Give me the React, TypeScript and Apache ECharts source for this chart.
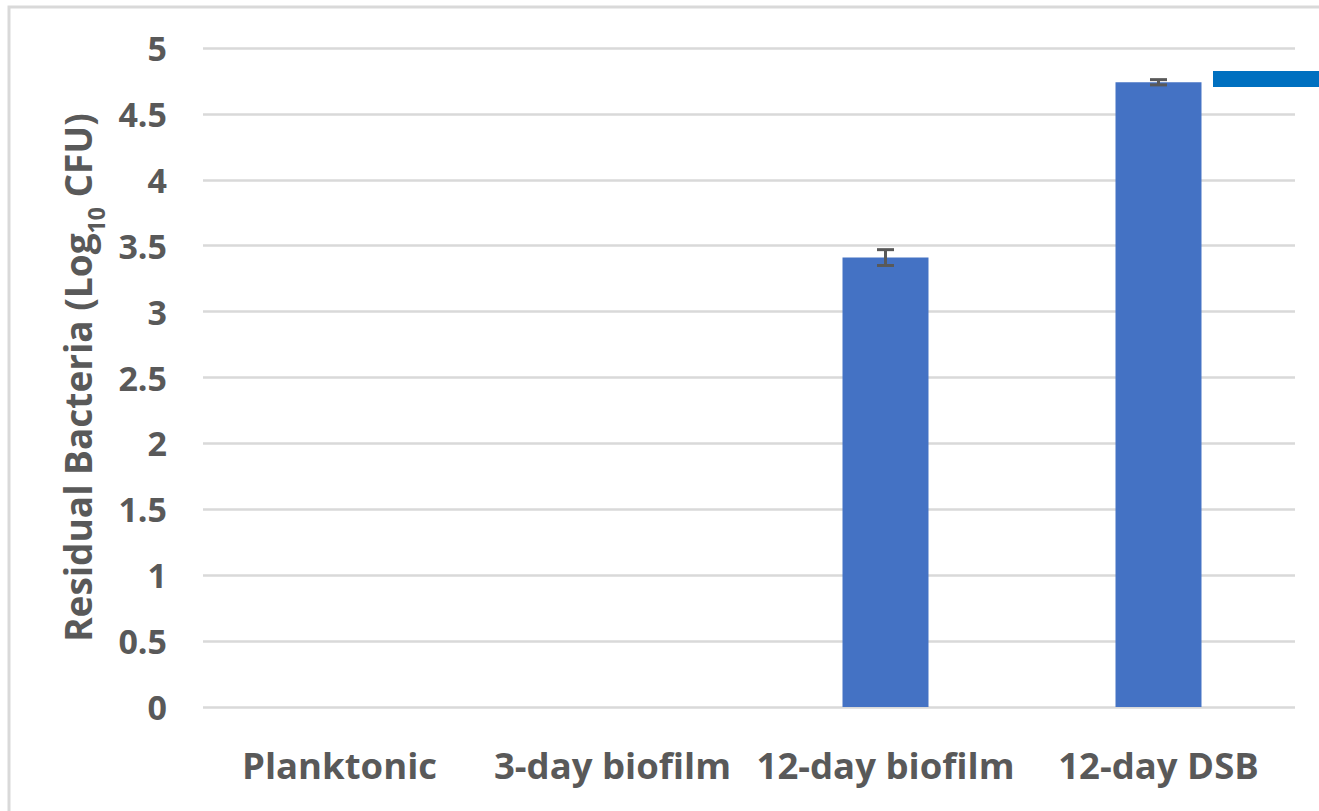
import React, { useEffect, useRef } from "react";
import * as echarts from "echarts";

const categories = ["Planktonic", "3-day biofilm", "12-day biofilm", "12-day DSB"];
const means = [0, 0, 3.41, 4.74];
const errors = [0, 0, 0.06, 0.02];
const yTicks = { min: 0, max: 5, interval: 0.5 };

export default function App() {
  const ref = useRef<HTMLDivElement>(null);
  useEffect(() => {
    const chart = echarts.init(ref.current!, null, { renderer: "svg" });
    const font = "Open Sans";
    const grey = "#595959";
    chart.setOption({
      animation: false,
      backgroundColor: "#ffffff",
      grid: { left: 203, right: 24, top: 48, bottom: 104 },
      graphic: [
        {
          type: "rect",
          shape: { x: 9, y: 7, width: 1400, height: 900 },
          style: { fill: "none", stroke: "#d9d9d9", lineWidth: 3 },
          silent: true,
        },
        {
          type: "rect",
          shape: { x: 1213, y: 71, width: 120, height: 16 },
          style: { fill: "#0070C0" },
          silent: true,
        },
      ],
      xAxis: {
        type: "category",
        data: categories,
        axisLine: { show: false },
        axisTick: { show: false },
        axisLabel: {
          color: grey,
          fontFamily: font,
          fontWeight: "bold",
          fontSize: 36.5,
          margin: 39,
          interval: 0,
        },
      },
      yAxis: {
        type: "value",
        min: yTicks.min,
        max: yTicks.max,
        interval: yTicks.interval,
        axisLine: { show: false },
        axisTick: { show: false },
        splitLine: { lineStyle: { color: "#d9d9d9", width: 2.5 } },
        axisLabel: {
          color: grey,
          fontFamily: font,
          fontWeight: "bold",
          fontSize: 34,
          margin: 36,
        },
        name: "{a|Residual Bacteria (Log}{s|10}{a| CFU)}",
        nameLocation: "middle",
        nameRotate: 90,
        nameGap: 97,
        nameTextStyle: {
          rich: {
            a: { color: grey, fontFamily: font, fontWeight: "bold", fontSize: 37 },
            s: {
              color: grey,
              fontFamily: font,
              fontWeight: "bold",
              fontSize: 23,
              verticalAlign: "bottom",
              padding: [0, 0, -12, 0],
            },
          },
        },
      },
      series: [
        {
          type: "bar",
          data: means,
          barWidth: "31.5%",
          itemStyle: { color: "#4472C4" },
        },
        {
          type: "custom",
          data: means.map((m, i) => [i, m - errors[i], m + errors[i]]),
          z: 10,
          renderItem: (params: any, api: any) => {
            const idx = api.value(0);
            if (means[idx] === 0) return null;
            const lo = api.coord([idx, api.value(1)]);
            const hi = api.coord([idx, api.value(2)]);
            const hw = 8.5;
            const st = { stroke: "#595959", lineWidth: 3 };
            return {
              type: "group",
              children: [
                { type: "line", shape: { x1: lo[0], y1: lo[1], x2: hi[0], y2: hi[1] }, style: st },
                { type: "line", shape: { x1: hi[0] - hw, y1: hi[1], x2: hi[0] + hw, y2: hi[1] }, style: st },
                { type: "line", shape: { x1: lo[0] - hw, y1: lo[1], x2: lo[0] + hw, y2: lo[1] }, style: st },
              ],
            };
          },
        },
      ],
    });
    return () => chart.dispose();
  }, []);
  return (
    <div
      ref={ref}
      style={{ position: "fixed", left: 0, top: 0, width: 1319, height: 811 }}
    />
  );
}
